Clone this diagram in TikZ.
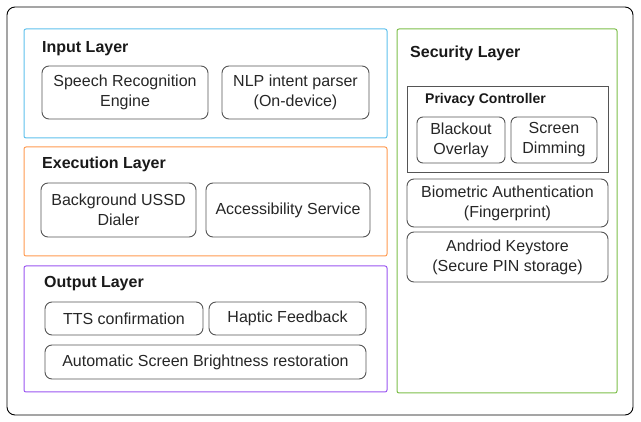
\documentclass[tikz,border=0pt]{standalone}
\usepackage{fontspec}
\setmainfont{Liberation Sans}
\usetikzlibrary{positioning}
\definecolor{inblue}{HTML}{5EC0EC}
\definecolor{exorange}{HTML}{FF9A50}
\definecolor{outpurple}{HTML}{9A55F0}
\definecolor{secgreen}{HTML}{7DBE4A}
\definecolor{boxgray}{HTML}{555555}

\begin{document}
\begin{tikzpicture}[x=1pt,y=-1pt,font=\fontsize{16}{20}\selectfont,
  box/.style={draw=boxgray,rounded corners=7pt,align=center,inner sep=0pt,
              text=black!85,line width=0.9pt},
  layer/.style={draw,rounded corners=2pt,line width=1pt,inner sep=0pt},
  title/.style={anchor=base west,inner sep=0pt,text=black!90,
                font=\fontsize{16}{20}\selectfont\bfseries}]
\useasboundingbox (0,0) rectangle (641,422);
% outer frame
\node[draw,rounded corners=8pt,line width=0.9pt,minimum width=626pt,
  minimum height=408pt,inner sep=0pt] (frame) at (320,211) {};
% layers
\node[layer,draw=inblue,minimum width=363pt,minimum height=109pt]
  (inlayer) at (205.5,83.5) {};
\node[layer,draw=exorange,minimum width=363pt,minimum height=109pt]
  (exlayer) at (205.5,201.5) {};
\node[layer,draw=outpurple,minimum width=363pt,minimum height=126pt]
  (outlayer) at (205.5,329) {};
\node[layer,draw=secgreen,minimum width=220pt,minimum height=364pt]
  (seclayer) at (507,211) {};
\node[title] (intitle) at (42,53) {Input Layer};
\node[title] (extitle) at (42,169) {Execution Layer};
\node[title] (outtitle) at (44,288) {Output Layer};
\node[title] (sectitle) at (410,57.5) {Security Layer};
% input
\node[box,minimum width=166pt,minimum height=53pt] (speech) at (125,92.5)
  {Speech Recognition\\ Engine};
\node[box,minimum width=147pt,minimum height=53pt] (nlp) at (295.5,92.5)
  {NLP intent parser\\ (On-device)};
% execution
\node[box,minimum width=155pt,minimum height=54pt] (ussd) at (118.5,210)
  {Background USSD\\ Dialer};
\node[box,minimum width=164pt,minimum height=54pt] (access) at (288,210)
  {Accessibility Service};
% output
\node[box,minimum width=158pt,minimum height=33pt] (tts) at (124,318.5)
  {TTS confirmation};
\node[box,minimum width=157pt,minimum height=33pt] (haptic) at (287.5,318.5)
  {Haptic Feedback};
\node[box,minimum width=321pt,minimum height=34pt] (bright) at (205.5,362)
  {Automatic Screen Brightness restoration};
% security
\node[draw=boxgray,line width=0.9pt,inner sep=0pt,minimum width=201pt,
  minimum height=86pt] (privacy) at (507.5,129) {};
\node[title,font=\fontsize{14}{18}\selectfont\bfseries] (privtitle)
  at (425,104) {Privacy Controller};
\node[box,rounded corners=6pt,minimum width=88pt,minimum height=46pt]
  (blackout) at (461,140) {Blackout\\ Overlay};
\node[box,rounded corners=6pt,minimum width=86pt,minimum height=46pt]
  (dimming) at (554,140) {Screen\\ Dimming};
\node[box,minimum width=201pt,minimum height=48pt] (bio) at (507.5,203)
  {Biometric Authentication\\ (Fingerprint)};
\node[box,minimum width=201pt,minimum height=50pt] (keystore) at (507.5,257)
  {Andriod Keystore\\ (Secure PIN storage)};
\end{tikzpicture}
\end{document}
